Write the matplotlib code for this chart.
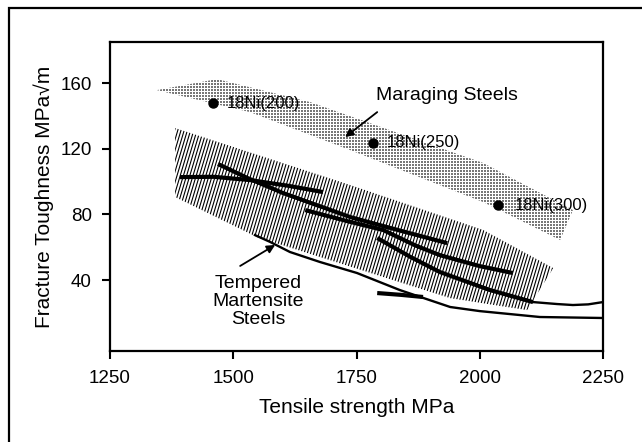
import numpy as np
import matplotlib.pyplot as plt
from matplotlib.patches import Polygon, Rectangle
from matplotlib.collections import LineCollection

plt.rcParams['font.family'] = ['Liberation Sans', 'DejaVu Sans']

# Points pour les aciers maraging
grades = ['18Ni(200)', '18Ni(250)', '18Ni(300)']
grade_ts = [1459, 1783, 2037]
grade_kic = [147.8, 123.5, 85.7]

# Zone des aciers maraging (pointillé)
mar_x = [1345, 1467, 1656, 2007, 2189, 2163, 2007, 1737, 1534]
mar_y = [155.7, 162.4, 148.4, 111.3, 82.6, 64.4, 87.5, 119.2, 142.3]

# Zone des aciers martensitiques revenus (hachurée)
tem_x = [1382, 1737, 2007, 2149, 2096, 1940, 1548, 1382]
tem_y = [132.6, 97.9, 70.5, 47.3, 21.7, 29.0, 66.2, 90.6]

# Courbes épaisses
curves = [
    ([1392, 1460, 1534, 1610, 1682], [102.7, 102.9, 100.9, 97.5, 93.6]),
    ([1469, 1530, 1601, 1737, 1840, 1934], [110.7, 102.0, 93.0, 78.4, 70.0, 62.5]),
    ([1646, 1730, 1804, 1870, 1919, 2000, 2067], [82.6, 76.0, 70.5, 61.0, 55.2, 48.5, 44.3]),
    ([1792, 1860, 1919, 2021, 2108], [65.6, 54.0, 44.9, 33.9, 26.6]),
    ([1792, 1840, 1885], [32.1, 31.0, 29.7]),
]
# Courbes fines
thin_curves = [
    ([2108, 2157, 2189, 2220, 2250], [26.6, 25.4, 24.8, 25.2, 26.6]),
    ([1544, 1575, 1615, 1676, 1751, 1838, 1940, 2000, 2122, 2250],
     [67.4, 63.2, 57.1, 51.0, 44.3, 33.9, 23.6, 21.1, 17.5, 16.9]),
]

# Flèches (queue, pointe)
arrows = [((1792, 142.3), (1727, 127.1)), ((1514, 48.6), (1585, 61.4))]

fig = plt.figure(figsize=(6.42, 4.42), dpi=100)
ax = fig.add_axes([110/642, 1 - 351/442, 493/642, 309/442])
ax.set_xlim(1250, 2250)
ax.set_ylim(-3.2, 185)

# pointillé
mar = Polygon(np.column_stack([mar_x, mar_y]), closed=True, fc='none', ec='none')
ax.add_patch(mar)
gx, gy = np.meshgrid(np.arange(0, 493, 3.0), np.arange(0, 309, 3.0))
dots = ax.scatter(gx.ravel() / 493, gy.ravel() / 309, s=0.9, marker='s', c='#777777',
                  lw=0, transform=ax.transAxes, zorder=1)
dots.set_clip_path(mar)

# hachures
tem = Polygon(np.column_stack([tem_x, tem_y]), closed=True, fc='none', ec='none')
ax.add_patch(tem)
segs = []
for px in np.arange(-200, 520, 3.2):
    segs.append([(px / 493, 0), ((px + 0.3 * 309) / 493, 1)])
lc = LineCollection(segs, colors='black', linewidths=0.8, transform=ax.transAxes, zorder=1)
ax.add_collection(lc)
lc.set_clip_path(tem)

for cx, cy in curves:
    ax.plot(cx, cy, color='black', lw=3, solid_capstyle='butt', zorder=3)
for cx, cy in thin_curves:
    ax.plot(cx, cy, color='black', lw=1.7, zorder=3)

ax.plot(grade_ts, grade_kic, 'o', color='black', ms=6.5, zorder=4)
offs = [10, 10, 12]
for g, x, y, o in zip(grades, grade_ts, grade_kic, offs):
    ax.annotate(g, (x, y), xytext=(o, 0), textcoords='offset points',
                va='center', ha='left', fontsize=12)

ax.text(1933, 152.5, 'Maraging Steels', ha='center', va='center', fontsize=14)
ax.text(1550, 27, 'Tempered\nMartensite\nSteels', ha='center', va='center',
        fontsize=14, linespacing=1.05)
for tail, tip in arrows:
    ax.annotate('', xy=tip, xytext=tail,
                arrowprops=dict(arrowstyle='-|>', color='black', lw=1.3,
                                mutation_scale=12, shrinkA=0, shrinkB=0))

ax.set_xticks([1250, 1500, 1750, 2000, 2250])
ax.set_yticks([40, 80, 120, 160])
ax.tick_params(direction='out', length=6, width=1.5, labelsize=13.5, pad=7)
ax.tick_params(axis='x', pad=8)
for s in ax.spines.values():
    s.set_linewidth(1.6)
ax.set_xlabel('Tensile strength MPa', fontsize=15, labelpad=7.5)
ax.set_ylabel('Fracture Toughness MPa\u221am', fontsize=15, labelpad=5)

fig.add_artist(Rectangle((9/642, -0.1), 1.2, 1.1 - 8/442, transform=fig.transFigure,
                         fill=False, lw=1.6, color='black'))

fig.savefig('out.png', dpi=100)
